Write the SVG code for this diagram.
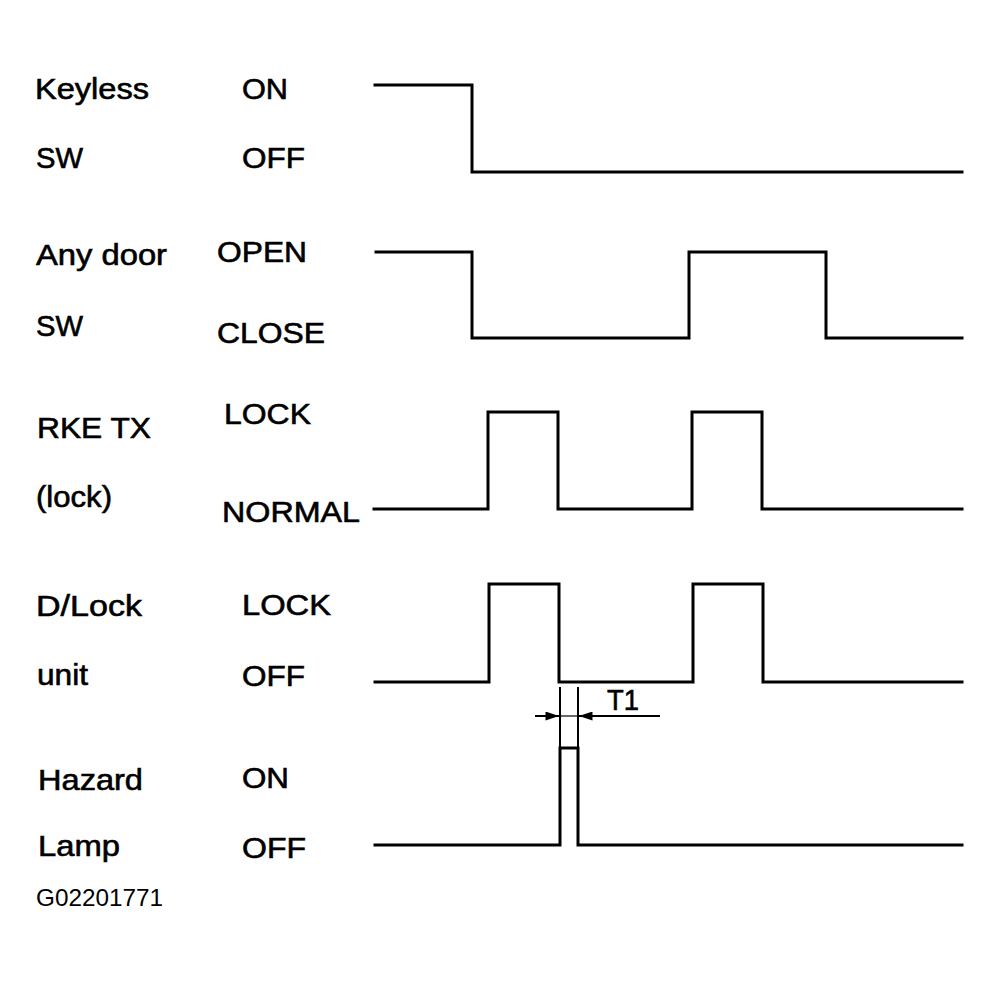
<svg xmlns="http://www.w3.org/2000/svg" width="1000" height="981" viewBox="0 0 1000 981">
<style>
.bg{fill:#fff}
.w{fill:none;stroke:#000;stroke-width:3;stroke-linejoin:miter;stroke-linecap:square}
.t{font-family:"Liberation Sans",Arial,Helvetica,sans-serif;font-size:29px;fill:#000;stroke:#000;stroke-width:0.6}
.c{font-family:"Liberation Sans",Arial,Helvetica,sans-serif;font-size:24px;fill:#000}
.d{fill:none;stroke:#000;stroke-width:2}
.m{fill:none;stroke:#000;stroke-width:1.2}
</style>
<defs>
<marker id="ah" viewBox="0 0 12 8" refX="12" refY="4" markerWidth="7" markerHeight="4.5" orient="auto" markerUnits="strokeWidth">
<path d="M0 0 L12 4 L0 8 Z" fill="#000"/>
</marker>
</defs>
<rect class="bg" x="0" y="0" width="1000" height="981"/>

<g id="keyless">
<text class="t" x="35" y="99" textLength="114" lengthAdjust="spacingAndGlyphs">Keyless</text>
<text class="t" x="36" y="168" textLength="47" lengthAdjust="spacingAndGlyphs">SW</text>
<text class="t" x="242" y="99" textLength="46" lengthAdjust="spacingAndGlyphs">ON</text>
<text class="t" x="242" y="168" textLength="63" lengthAdjust="spacingAndGlyphs">OFF</text>
<path class="w" d="M375 85 H472 V172 H962"/>
</g>

<g id="anydoor">
<text class="t" x="36" y="265" textLength="131" lengthAdjust="spacingAndGlyphs">Any door</text>
<text class="t" x="36" y="336" textLength="47" lengthAdjust="spacingAndGlyphs">SW</text>
<text class="t" x="217" y="262" textLength="90" lengthAdjust="spacingAndGlyphs">OPEN</text>
<text class="t" x="217" y="343" textLength="108" lengthAdjust="spacingAndGlyphs">CLOSE</text>
<path class="w" d="M376 252 H472 V338 H689 V252 H826 V338 H962"/>
</g>

<g id="rketx">
<text class="t" x="37" y="438" textLength="114" lengthAdjust="spacingAndGlyphs">RKE TX</text>
<text class="t" x="36" y="507" textLength="76" lengthAdjust="spacingAndGlyphs">(lock)</text>
<text class="t" x="224" y="424" textLength="87" lengthAdjust="spacingAndGlyphs">LOCK</text>
<text class="t" x="222" y="522" textLength="138" lengthAdjust="spacingAndGlyphs">NORMAL</text>
<path class="w" d="M374 509 H488 V412 H558 V509 H692 V412 H762 V509 H962"/>
</g>

<g id="dlock">
<text class="t" x="36" y="616" textLength="106" lengthAdjust="spacingAndGlyphs">D/Lock</text>
<text class="t" x="37" y="685" textLength="51" lengthAdjust="spacingAndGlyphs">unit</text>
<text class="t" x="242" y="615" textLength="89" lengthAdjust="spacingAndGlyphs">LOCK</text>
<text class="t" x="242" y="686" textLength="63" lengthAdjust="spacingAndGlyphs">OFF</text>
<path class="w" d="M375 682 H489 V584 H559 V682 H693 V584 H763 V682 H962"/>
</g>

<g id="hazard">
<text class="t" x="38" y="790" textLength="105" lengthAdjust="spacingAndGlyphs">Hazard</text>
<text class="t" x="38" y="856" textLength="82" lengthAdjust="spacingAndGlyphs">Lamp</text>
<text class="t" x="242" y="788" textLength="47" lengthAdjust="spacingAndGlyphs">ON</text>
<text class="t" x="242" y="858" textLength="64" lengthAdjust="spacingAndGlyphs">OFF</text>
<path class="w" d="M375 845 H560 V748 H578 V845 H962"/>
</g>

<g id="t1">
<line class="d" x1="560" y1="687" x2="560" y2="748"/>
<line class="d" x1="578" y1="687" x2="578" y2="748"/>
<line class="m" x1="561" y1="716" x2="577" y2="716"/>
<line class="d" x1="535" y1="716" x2="559" y2="716" marker-end="url(#ah)"/>
<line class="d" x1="660" y1="716" x2="579" y2="716" marker-end="url(#ah)"/>
<text class="t" x="607" y="710" textLength="32" lengthAdjust="spacingAndGlyphs">T1</text>
</g>

<text class="c" x="36" y="906" textLength="127" lengthAdjust="spacingAndGlyphs">G02201771</text>
</svg>
